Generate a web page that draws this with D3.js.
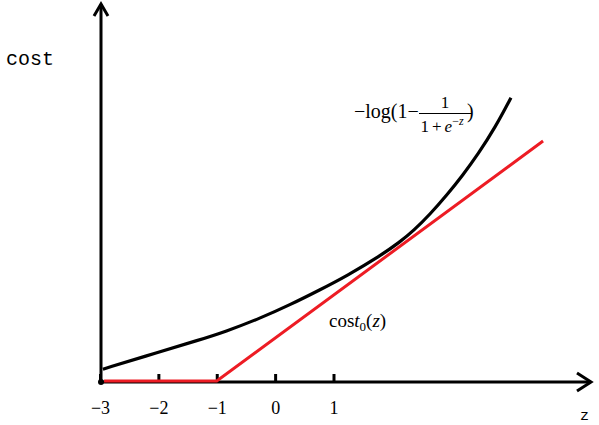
<!DOCTYPE html>
<html>
<head>
<meta charset="utf-8">
<script src="https://cdn.jsdelivr.net/npm/d3@7"></script>
<style>
  html, body { margin: 0; padding: 0; background: #ffffff; }
  svg { display: block; }
</style>
</head>
<body>
<svg id="chart" width="599" height="425"></svg>
<script>
// ---- data ----
const blackZ    = [-2.95, -2.0, -1.3, -0.86, -0.26, 0.25, 0.77, 1.23, 1.80, 2.14, 2.37, 2.65, 2.94, 3.22, 3.48, 3.77, 4.04];
const blackCost = [ 0.22,  0.51, 0.72, 0.86,  1.09, 1.32, 1.58, 1.82, 2.16, 2.40, 2.59, 2.87, 3.20, 3.55, 3.91, 4.36, 4.87];
const redZ      = [-2.93, -1, 4.59];
const redCost   = [0, 0, 4.11];
const tickValues = [-3, -2, -1, 0, 1];
const tickLabels = ["\u22123", "\u22122", "\u22121", "0", "1"];

const svg = d3.select("#chart");

const x = d3.scaleLinear().domain([-3, 1]).range([100, 333.5]);
const y = d3.scaleLinear().domain([0, 1]).range([382, 382 - 58.375]);

const x0 = x(-3), y0 = y(0);
const RED = "#ed1c24";

// axes lines
svg.append("line").attr("x1", x0).attr("y1", y0).attr("x2", 591).attr("y2", y0)
  .attr("stroke", "#000").attr("stroke-width", 3);
svg.append("line").attr("x1", x0 + 1).attr("y1", y0).attr("x2", x0 + 1).attr("y2", 4)
  .attr("stroke", "#000").attr("stroke-width", 3);
// arrow heads
svg.append("path").attr("d", `M577,${y0 - 9} L591,${y0} L577,${y0 + 9}`)
  .attr("fill", "none").attr("stroke", "#000").attr("stroke-width", 3).attr("stroke-linejoin", "miter");
svg.append("path").attr("d", `M${x0 - 6},16 L${x0 + 1},4 L${x0 + 8},16`)
  .attr("fill", "none").attr("stroke", "#000").attr("stroke-width", 3).attr("stroke-linejoin", "miter");

// ticks via d3 axis
const axis = d3.axisBottom(x)
  .tickValues(tickValues)
  .tickFormat((d, i) => tickLabels[i])
  .tickSizeInner(-8).tickSizeOuter(0).tickPadding(19);
const gAxis = svg.append("g").attr("transform", `translate(0,${y0})`).call(axis);
gAxis.select(".domain").remove();
gAxis.selectAll(".tick line").attr("stroke", "#000").attr("stroke-width", 3);
gAxis.selectAll(".tick text")
  .attr("fill", "#000")
  .style("font-family", "'Liberation Serif', 'Times New Roman', serif")
  .style("font-size", "18px");

// red hinge line
const red = redZ.map((z, i) => [z, redCost[i]]);
svg.append("path").datum(red)
  .attr("d", d3.line().x(d => x(d[0])).y(d => y(d[1]) - 1))
  .attr("fill", "none").attr("stroke", RED).attr("stroke-width", 3);

// black curve
const blk = blackZ.map((z, i) => [z, blackCost[i]]);
svg.append("path").datum(blk)
  .attr("d", d3.line().curve(d3.curveBasis).x(d => x(d[0])).y(d => y(d[1])))
  .attr("fill", "none").attr("stroke", "#000").attr("stroke-width", 3.2);

// origin dot
svg.append("circle").attr("cx", x0 + 1).attr("cy", y0).attr("r", 3).attr("fill", "#000");

// axis labels
const mono = "'Liberation Mono', 'Courier New', monospace";
const serif = "'Liberation Serif', 'Times New Roman', serif";
svg.append("text").attr("x", 6).attr("y", 65).text("cost")
  .style("font-family", mono).style("font-size", "20px").attr("fill", "#000");
svg.append("text").attr("x", 580).attr("y", 420).text("z")
  .style("font-family", mono).style("font-size", "15px").attr("fill", "#000");

// formula -log(1 - 1/(1+e^-z))
const f = svg.append("g").style("font-family", serif).attr("fill", "#000");
f.append("text").attr("x", 354).attr("y", 118).style("font-size", "20px").text("\u2212log(1\u2212");
f.append("line").attr("x1", 419).attr("x2", 472).attr("y1", 113.5).attr("y2", 113.5)
  .attr("stroke", "#000").attr("stroke-width", 1);
f.append("text").attr("x", 445).attr("y", 108).attr("text-anchor", "middle").style("font-size", "17px").text("1");
const den = f.append("text").attr("x", 420.5).attr("y", 132).style("font-size", "17px");
den.append("tspan").text("1");
den.append("tspan").attr("dx", 3).text("+");
den.append("tspan").attr("dx", 3).style("font-style", "italic").text("e");
den.append("tspan").attr("dy", -7).style("font-size", "12px").text("\u2212");
den.append("tspan").style("font-size", "12px").style("font-style", "italic").text("z");
f.append("text").attr("x", 467).attr("y", 118).style("font-size", "20px").text(")");

// cost_0(z)
const c = svg.append("text").attr("x", 329).attr("y", 327).style("font-family", serif)
  .style("font-size", "19px").attr("fill", "#000");
c.append("tspan").text("cos");
c.append("tspan").style("font-style", "italic").text("t");
c.append("tspan").attr("dy", 4).style("font-size", "13px").text("0");
c.append("tspan").attr("dy", -4).text("(");
c.append("tspan").style("font-style", "italic").text("z");
c.append("tspan").text(")");
</script>
</body>
</html>
